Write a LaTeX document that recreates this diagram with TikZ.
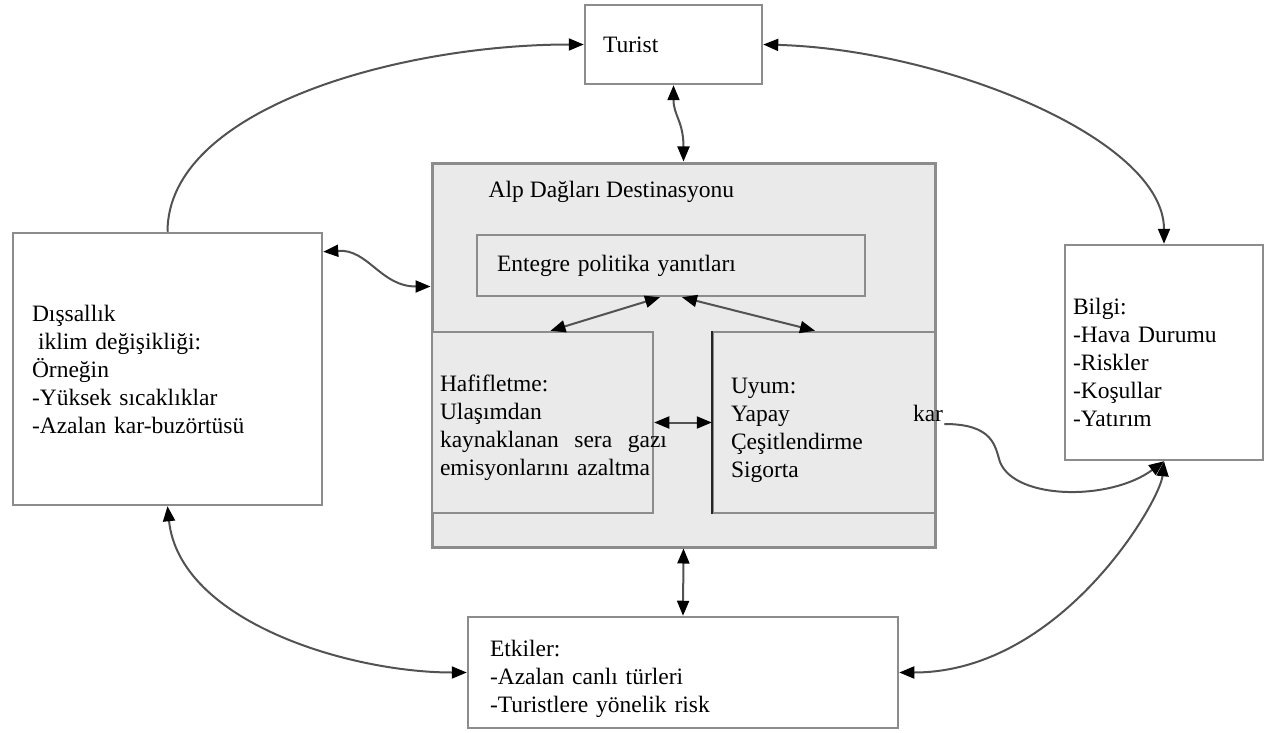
\documentclass[tikz,border=0pt]{standalone}
\usepackage{fontspec}
\setmainfont{Liberation Serif}
\usepackage{tikz}
\usetikzlibrary{calc,arrows.meta}
\definecolor{framecolore}{HTML}{8C8C8C}
\colorlet{shadecolore}{framecolore!18!white}
\colorlet{innerframe}{black!45}
\colorlet{linkcolor}{black!68}
\newcommand{\boxfont}{\fontsize{23.5}{28}\selectfont}
\tikzstyle{outerbox} = [
    draw=framecolore,
    fill=white,
    line width=2.5pt,
    rectangle,
    align=left,
    font=\boxfont
    ]
\tikzstyle{destbox} = [
    draw=framecolore,
    fill=shadecolore,
    line width=3pt,
    rectangle
    ]
\tikzstyle{innerbox} = [
    draw=innerframe,
    fill=shadecolore,
    line width=2.5pt,
    rectangle,
    align=left,
    font=\boxfont
    ]
\tikzstyle{link} = [
    draw=linkcolor,
    line width=2pt,
    >={Triangle[length=15pt,width=12pt,color=black]}
    ]

\begin{document}
\begin{tikzpicture}[x=1pt, y=-1pt]
\useasboundingbox (0,0) rectangle (1266,733);

\node [outerbox, minimum width=177pt, minimum height=79pt, inner xsep=18pt, text width=141pt] (turist) at (673.5,44.5) {Turist};

\node [outerbox, minimum width=309pt, minimum height=272pt, inner xsep=19pt, text width=271pt] (disal) at (167.5,369) {%
Dışsallık\\
\hspace*{6pt}iklim değişikliği:\\
Örneğin\\
-Yüksek sıcaklıklar\\
-Azalan kar-buzörtüsü};

\node [outerbox, minimum width=198pt, minimum height=215pt, inner xsep=8pt, text width=182pt] (bilgi) at (1164,352.5) {%
\rule{0pt}{36pt}Bilgi:\\
-Hava Durumu\\
-Riskler\\
-Koşullar\\
-Yatırım};

\node [outerbox, minimum width=430pt, minimum height=111pt, inner xsep=22pt, text width=386pt] (etkiler) at (683,672.5) {%
\rule{0pt}{30pt}Etkiler:\\
-Azalan canlı türleri\\
-Turistlere yönelik risk};

% destinasyon
\node [destbox, minimum width=503pt, minimum height=384pt] (big) at (683.5,355) {};
\node [anchor=west, inner sep=0pt, font=\boxfont] (alp) at ($(big.north west)+(58,30)$) {Alp Dağları Destinasyonu};

\node [innerbox, minimum width=388pt, minimum height=61pt, inner xsep=20pt, text width=348pt] (entegre) at (671,265.5) {Entegre politika yanıtları};

\node [innerbox, minimum width=221pt, minimum height=181pt, inner xsep=8pt, text width=205pt] (hafif) at (542.5,422.5) {%
\rule{0pt}{28pt}Hafifletme:\\
Ulaşımdan\\
\leavevmode\rlap{\hbox to 227pt{kaynaklanan\hfill sera\hfill gazı}}\\
\mbox{emisyonlarını azaltma}};

\node [innerbox, minimum width=222pt, minimum height=181pt, inner xsep=18pt, text width=186pt] (uyum) at (824,422.5) {%
\rule{0pt}{31.5pt}Uyum:\\
\leavevmode\rlap{\hbox to 212pt{Yapay\hfill kar}}\\
Çeşitlendirme\\
Sigorta};
\draw [line width=2.5pt, black!85] (uyum.south west) -- (uyum.north west);

% links
\draw[link,<->] ($(entegre.south)+(-11,0)$) -- ($(hafif.north)+(8,0)$);
\draw[link,<->] ($(entegre.south)+(11,0)$) -- ($(uyum.north)+(-9,0)$);
\draw[link,<->] (hafif.east) -- (uyum.west);
\draw[link,<->] (big.south) -- (etkiler.north);
\draw[link,<->] (turist.south) .. controls +(0,30) and +(0,-40) .. (big.north);
\draw[link,<->] ($(disal.north east)+(0,20)$) .. controls +(45,-3) and +(-50,0) .. ($(big.north west)+(0,125)$);
\draw[link,->] (disal.north) .. controls +(0,-123) and +(-185,0) .. (turist.west);
\draw[link,<->] (turist.east) .. controls +(180,5) and +(0,-105) .. (bilgi.north);
\draw[link,<->] (disal.south) .. controls +(12,115) and +(-118,0) .. (etkiler.west);
\draw[link,<->] (etkiler.east) .. controls +(162,0) and +(-4,40) .. (bilgi.south);
\coordinate (karbend) at (1000,462);
\draw[link,->] ($(uyum.east)+(8,1.5)$) .. controls +(50,0) and +(-5,-15) .. (karbend) .. controls +(15,38) and +(-54,40) .. (bilgi.south);
\end{tikzpicture}
\end{document}
